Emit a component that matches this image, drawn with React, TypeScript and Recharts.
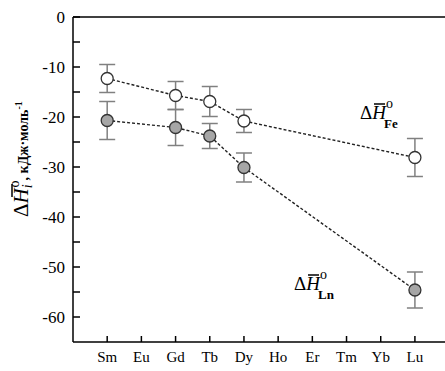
import React from 'react';
import { LineChart, Line, XAxis, YAxis, ErrorBar, ReferenceLine } from 'recharts';

const categories = ['Sm', 'Eu', 'Gd', 'Tb', 'Dy', 'Ho', 'Er', 'Tm', 'Yb', 'Lu'];
const feValues: (number | null)[] = [-12.3, null, -15.7, -16.9, -20.8, null, null, null, null, -28.1];
const feErrors: (number | null)[] = [2.8, null, 2.8, 3.0, 2.3, null, null, null, null, 3.8];
const lnValues: (number | null)[] = [-20.7, null, -22.1, -23.8, -30.1, null, null, null, null, -54.6];
const lnErrors: (number | null)[] = [3.8, null, 3.6, 2.5, 2.9, null, null, null, null, 3.6];
const yTicks = [-60, -55, -50, -45, -40, -35, -30, -25, -20, -15, -10, -5, 0];
const xTicks = categories.map((_, i) => i + 1);

const data = categories
  .map((c, i) => ({ x: i + 1, name: c, fe: feValues[i], feErr: feErrors[i], ln: lnValues[i], lnErr: lnErrors[i] }))
  .filter((d) => d.fe !== null);

const FONT = "'Liberation Serif', 'DejaVu Serif', serif";
const fs = { fontFamily: FONT };

const YTick = (props: any) => {
  const { x, y, payload } = props;
  const v = payload.value as number;
  return (
    <g>
      <line x1={x} x2={x + 7} y1={y} y2={y} stroke="#000" strokeWidth={1.5} />
      {v % 10 === 0 && (
        <text x={x - 8} y={y} dy={6} textAnchor="end" fontSize={17} style={fs} fill="#000">
          {v}
        </text>
      )}
    </g>
  );
};

const XTick = (props: any) => {
  const { x, y, payload } = props;
  return (
    <g>
      <line x1={x} x2={x} y1={y} y2={y - 6} stroke="#000" strokeWidth={1.5} />
      <text x={x} y={y + 20} textAnchor="middle" fontSize={15} style={fs} fill="#000">
        {categories[(payload.value as number) - 1]}
      </text>
    </g>
  );
};

const makeDot = (fill: string) => (props: any) => {
  const { cx, cy, index } = props;
  if (cx == null || cy == null) return <g key={index} />;
  return <circle key={index} cx={cx} cy={cy} r={6} fill={fill} stroke="#333" strokeWidth={1.3} />;
};

export default function App() {
  return (
    <div style={{ position: 'absolute', left: 0, top: 0, width: 445, height: 371, background: '#fff', fontFamily: FONT }}>
      <LineChart width={445} height={371} data={data} margin={{ top: 17, right: 0, bottom: 0, left: 0 }}>
        <XAxis
          dataKey="x"
          type="number"
          domain={[0, 10.88]}
          ticks={xTicks}
          allowDataOverflow
          height={29}
          tickSize={0}
          tickMargin={0}
          tick={<XTick />}
          axisLine={{ stroke: '#000', strokeWidth: 1.5 }}
          tickLine={false}
        />
        <YAxis
          type="number"
          domain={[-65, 0]}
          ticks={yTicks}
          allowDataOverflow
          width={73}
          tickSize={0}
          tickMargin={0}
          tick={<YTick />}
          axisLine={{ stroke: '#000', strokeWidth: 1.5 }}
          tickLine={false}
          interval={0}
        />
        <ReferenceLine y={0} stroke="#000" strokeWidth={1.5} />
        <Line
          dataKey="fe"
          stroke="#222"
          strokeWidth={1.4}
          strokeDasharray="3 2"
          isAnimationActive={false}
          dot={makeDot('#ffffff')}
          activeDot={false}
        >
          <ErrorBar dataKey="feErr" width={8} stroke="#808080" strokeWidth={1.5} direction="y" />
        </Line>
        <Line
          dataKey="ln"
          stroke="#222"
          strokeWidth={1.4}
          strokeDasharray="3 2"
          isAnimationActive={false}
          dot={makeDot('#a6a6a6')}
          activeDot={false}
        >
          <ErrorBar dataKey="lnErr" width={8} stroke="#808080" strokeWidth={1.5} direction="y" />
        </Line>
      </LineChart>
      <svg
        width={445}
        height={371}
        style={{ position: 'absolute', left: 0, top: 0, pointerEvents: 'none' }}
      >
        <text transform="rotate(-90 28 217)" x={28} y={217} style={fs} fill="#000">
          <tspan fontSize={21}>Δ</tspan>
          <tspan fontSize={21} fontStyle="italic">H</tspan>
          <tspan fontSize={14} fontStyle="italic" dy={4}>i</tspan>
          <tspan fontSize={14} dx={-3} dy={-13}>o</tspan>
          <tspan fontSize={14} fontWeight="bold" dy={9}>, кДж·моль</tspan>
          <tspan fontSize={10} fontWeight="bold" dy={-6}>-1</tspan>
        </text>
        <line x1={12} x2={12} y1={184} y2={197} stroke="#000" strokeWidth={1.5} />

        <text x={360} y={119} style={fs} fill="#000">
          <tspan fontSize={19}>Δ</tspan>
          <tspan fontSize={19} fontStyle="italic">H</tspan>
          <tspan fontSize={14} dy={-11}>o</tspan>
        </text>
        <text x={384} y={128} style={fs} fontSize={13} fontWeight="bold" fill="#000">Fe</text>
        <line x1={374} x2={385} y1={104} y2={104} stroke="#000" strokeWidth={1.5} />

        <text x={294} y={290} style={fs} fill="#000">
          <tspan fontSize={19}>Δ</tspan>
          <tspan fontSize={19} fontStyle="italic">H</tspan>
          <tspan fontSize={14} dy={-11}>o</tspan>
        </text>
        <text x={318} y={299} style={fs} fontSize={13} fontWeight="bold" fill="#000">Ln</text>
        <line x1={308} x2={319} y1={275} y2={275} stroke="#000" strokeWidth={1.5} />
      </svg>
    </div>
  );
}
